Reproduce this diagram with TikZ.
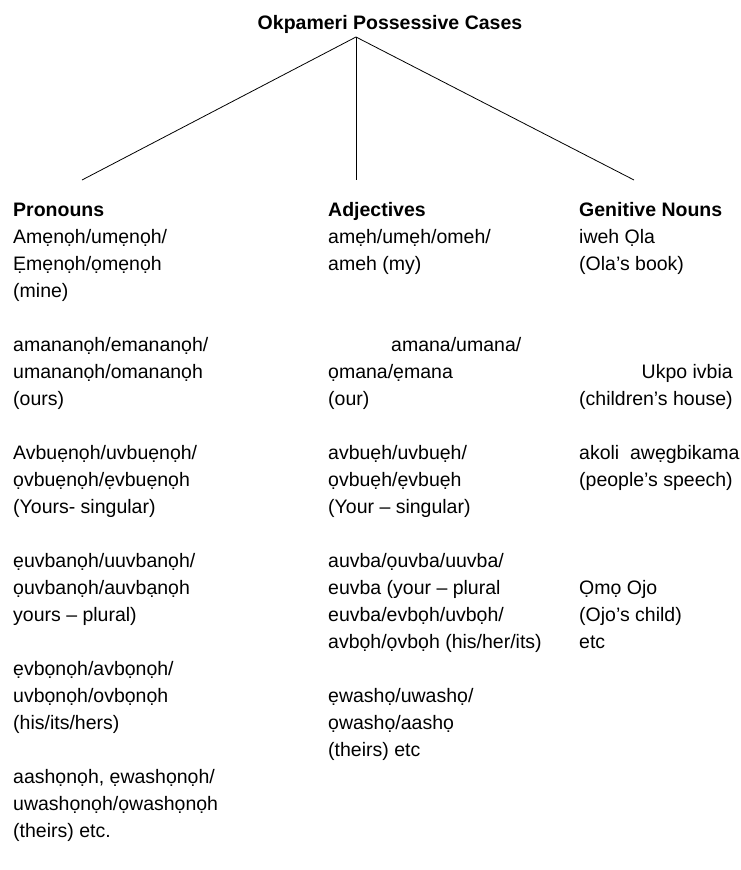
\documentclass[tikz,border=0pt]{standalone}
\usepackage{fontspec}
\setmainfont{Liberation Sans}
\begin{document}
\begin{tikzpicture}[x=1pt,y=1pt,
  txt/.style={anchor=base west, inner sep=0pt, font=\fontsize{19.5}{27}\selectfont},
  hd/.style={txt, font=\fontsize{19.5}{27}\selectfont\bfseries},
  conn/.style={draw=black, line width=0.8pt}]
\useasboundingbox (0,0) rectangle (741,-870);
% title and tree
\node[hd, anchor=base] (title) at (390,-29) {Okpameri Possessive Cases};
\coordinate (apex) at (356,-37);
\coordinate (lend) at (82,-180);
\coordinate (mend) at (356,-180);
\coordinate (rend) at (634,-180);
\draw[conn] (apex) -- (lend);
\draw[conn] (apex) -- (mend);
\draw[conn] (apex) -- (rend);
% left column: Pronouns
\node[hd] (l0) at (13,-216.5) {Pronouns};
\node[txt] (l1) at (13,-243.5) {Amẹnọh/umẹnọh/};
\node[txt] (l2) at (13,-270.5) {Ẹmẹnọh/ọmẹnọh};
\node[txt] (l3) at (13,-297.5) {(mine)};
\node[txt] (l5) at (13,-351.5) {amananọh/emananọh/};
\node[txt] (l6) at (13,-378.5) {umananọh/omananọh};
\node[txt] (l7) at (13,-405.5) {(ours)};
\node[txt] (l9) at (13,-459.5) {Avbuẹnọh/uvbuẹnọh/};
\node[txt] (l10) at (13,-486.5) {ọvbuẹnọh/ẹvbuẹnọh};
\node[txt] (l11) at (13,-513.5) {(Yours- singular)};
\node[txt] (l13) at (13,-567.5) {ẹuvbanọh/uuvbanọh/};
\node[txt] (l14) at (13,-594.5) {ọuvbanọh/auvbạnọh};
\node[txt] (l15) at (13,-621.5) {yours – plural)};
\node[txt] (l17) at (13,-675.5) {ẹvbọnọh/avbọnọh/};
\node[txt] (l18) at (13,-702.5) {uvbọnọh/ovbọnọh};
\node[txt] (l19) at (13,-729.5) {(his/its/hers)};
\node[txt] (l21) at (13,-783.5) {aashọnọh, ẹwashọnọh/};
\node[txt] (l22) at (13,-810.5) {uwashọnọh/ọwashọnọh};
\node[txt] (l23) at (13,-837.5) {(theirs) etc.};
% middle column: Adjectives
\node[hd] (m0) at (328,-216.5) {Adjectives};
\node[txt] (m1) at (328,-243.5) {amẹh/umẹh/omeh/};
\node[txt] (m2) at (328,-270.5) {ameh (my)};
\node[txt] (m5) at (391,-351.5) {amana/umana/};
\node[txt] (m6) at (328,-378.5) {ọmana/ẹmana};
\node[txt] (m7) at (328,-405.5) {(our)};
\node[txt] (m9) at (328,-459.5) {avbuẹh/uvbuẹh/};
\node[txt] (m10) at (328,-486.5) {ọvbuẹh/ẹvbuẹh};
\node[txt] (m11) at (328,-513.5) {(Your – singular)};
\node[txt] (m13) at (328,-567.5) {auvba/ọuvba/uuvba/};
\node[txt] (m14) at (328,-594.5) {euvba (your – plural};
\node[txt] (m15) at (328,-621.5) {euvba/evbọh/uvbọh/};
\node[txt] (m16) at (328,-648.5) {avbọh/ọvbọh (his/her/its)};
\node[txt] (m18) at (328,-702.5) {ẹwashọ/uwashọ/};
\node[txt] (m19) at (328,-729.5) {ọwashọ/aashọ};
\node[txt] (m20) at (328,-756.5) {(theirs) etc};
% right column: Genitive Nouns
\node[hd] (r0) at (579,-216.5) {Genitive Nouns};
\node[txt] (r1) at (579,-243.5) {iweh Ọla};
\node[txt] (r2) at (579,-270.5) {(Ola’s book)};
\node[txt] (r7) at (579,-405.5) {(children’s house)};
\path (r7.base east) ++(0,27) node[txt, anchor=base east] (r6) {Ukpo ivbia};
\node[txt] (r9) at (579,-459.5) {akoli\ \ awẹgbikama};
\node[txt] (r10) at (579,-486.5) {(people’s speech)};
\node[txt] (r14) at (579,-594.5) {Ọmọ Ojo};
\node[txt] (r15) at (579,-621.5) {(Ojo’s child)};
\node[txt] (r16) at (579,-648.5) {etc};
\end{tikzpicture}
\end{document}
